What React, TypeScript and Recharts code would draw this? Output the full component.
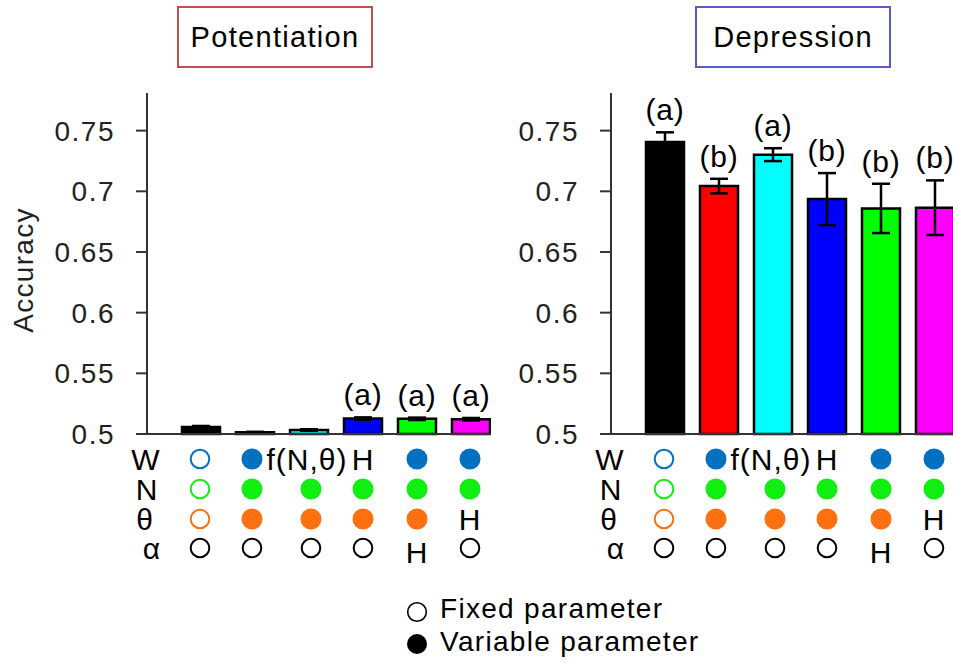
import React from "react";
import { ComposedChart, Bar, Cell, ErrorBar, Line, LabelList, XAxis, YAxis } from "recharts";

const FONT = '"Liberation Sans", Arial, Helvetica, sans-serif';

const categories = ["All fixed", "Variable W,N,θ", "W = f(N,θ)", "W = H", "α = H", "θ = H"];
const barColors = ["#000000", "#ff0000", "#00ffff", "#0000ff", "#00ff00", "#ff00ff"];

const potMean = [0.5058, 0.5015, 0.5033, 0.5127, 0.5125, 0.5122];
const potErr = [0.0008, 0.0003, 0.0006, 0.001, 0.001, 0.001];
const potSig = ["", "", "", "(a)", "(a)", "(a)"];

const depMean = [0.7406, 0.7043, 0.7302, 0.6936, 0.6859, 0.6865];
const depErr = [0.008, 0.006, 0.0053, 0.0214, 0.0203, 0.0225];
const depSig = ["(a)", "(b)", "(a)", "(b)", "(b)", "(b)"];

const yTicks = [0.5, 0.55, 0.6, 0.65, 0.7, 0.75];

// parameter table: "o" = fixed, "f" = variable, anything else is written as text
const rowNames = ["W", "N", "θ", "α"];
const rowW = ["o", "f", "f(N,θ)", "H", "f", "f"];
const rowN = ["o", "f", "f", "f", "f", "f"];
const rowTheta = ["o", "f", "f", "f", "f", "H"];
const rowAlpha = ["o", "o", "o", "o", "H", "o"];
const rowColors = ["#0070c0", "#11ee11", "#ff7010", "#000000"];

const rowY = [25, 55, 85, 114];
const nameDx = [-55, -54, -56, -49];
const colNudge = [-1, -3, 2, 0, 0, -1];

function ParamTick(props: any) {
  const { x, y, payload } = props;
  const i = props.index ?? payload.index;
  const cx = x + colNudge[i];
  const rows = [rowW, rowN, rowTheta, rowAlpha];
  return (
    <g fontFamily={FONT} fontSize={30} letterSpacing={1}>
      {i === 0 &&
        rowNames.map((n, r) => (
          <text key={n} x={x + nameDx[r]} y={y + rowY[r] + 11} textAnchor="middle" fill="#000">
            {n}
          </text>
        ))}
      {rows.map((row, r) => {
        const v = row[i];
        const cy = y + rowY[r];
        if (v === "o")
          return <circle key={r} cx={cx} cy={cy} r={9.3} fill="#fff" stroke={rowColors[r]} strokeWidth={2} />;
        if (v === "f") return <circle key={r} cx={cx} cy={cy} r={10.5} fill={rowColors[r]} />;
        const dy = r === 3 ? 4 : 0;
        return (
          <text key={r} x={cx - (v.length > 1 ? 4 : 0)} y={cy + dy + 11} textAnchor="middle" fill="#000">
            {v}
          </text>
        );
      })}
    </g>
  );
}

function Panel({ mean, err, sig, width, axisWidth, padRight }: any) {
  const data = categories.map((name, i) => ({
    name,
    mean: mean[i],
    err: err[i],
    upper: mean[i] + err[i],
    sig: sig[i],
  }));
  return (
    <ComposedChart width={width} height={570} data={data} margin={{ top: 93, right: 0, bottom: 6, left: 0 }}>
      <XAxis
        dataKey="name"
        height={130}
        interval={0}
        tickSize={0}
        tickMargin={0}
        padding={{ left: 27, right: padRight }}
        axisLine={{ stroke: "#333", strokeWidth: 2 }}
        tickLine={false}
        tick={<ParamTick />}
      />
      <YAxis
        width={axisWidth}
        domain={[0.5, 0.781]}
        ticks={yTicks}
        tickSize={11}
        tickMargin={21}
        axisLine={{ stroke: "#333", strokeWidth: 2 }}
        tickLine={{ stroke: "#333", strokeWidth: 2 }}
        tick={{ fontSize: 28, fill: "#222", fontFamily: FONT, letterSpacing: 1.5 }}
        tickFormatter={(v: number) => String(v)}
      />
      <Bar dataKey="mean" barSize={38} stroke="#000" strokeWidth={2.5} isAnimationActive={false}>
        {data.map((d, i) => (
          <Cell key={d.name} fill={barColors[i]} />
        ))}
        <ErrorBar dataKey="err" width={9} stroke="#000" strokeWidth={2.5} />
      </Bar>
      <Line dataKey="upper" stroke="none" dot={false} activeDot={false} isAnimationActive={false}>
        <LabelList dataKey="sig" position="top" offset={12} fontSize={30} fill="#000" fontFamily={FONT} letterSpacing={0.8} />
      </Line>
    </ComposedChart>
  );
}

export default function App() {
  return (
    <div style={{ position: "absolute", left: 0, top: 0, width: 953, height: 663, overflow: "hidden", background: "#fff" }}>
      <div style={{ position: "absolute", left: 0, top: 0 }}>
        <Panel mean={potMean} err={potErr} sig={potSig} width={491} axisWidth={147} padRight={-7} />
      </div>
      <div style={{ position: "absolute", left: 500, top: 0 }}>
        <Panel mean={depMean} err={depErr} sig={depSig} width={453} axisWidth={111} padRight={-9} />
      </div>
      <svg
        width={953}
        height={663}
        style={{ position: "absolute", left: 0, top: 0, pointerEvents: "none" }}
        fontFamily={FONT}
        fontSize={28}
        letterSpacing={1.3}
      >
        <rect x={178} y={7} width={194} height={60} fill="none" stroke="#c0504d" strokeWidth={2} />
        <text x={275} y={47} textAnchor="middle" fontSize={29}>Potentiation</text>
        <rect x={696} y={7} width={194} height={60} fill="none" stroke="#5b5bc8" strokeWidth={2} />
        <text x={793} y={47} textAnchor="middle" fontSize={29}>Depression</text>
        <text transform="translate(33,270) rotate(-90)" textAnchor="middle" fill="#222">Accuracy</text>
        <circle cx={417} cy={612} r={9.3} fill="#fff" stroke="#000" strokeWidth={1.6} />
        <text x={440} y={618}>Fixed parameter</text>
        <circle cx={417} cy={644} r={10} fill="#000" />
        <text x={440} y={651}>Variable parameter</text>
      </svg>
    </div>
  );
}
